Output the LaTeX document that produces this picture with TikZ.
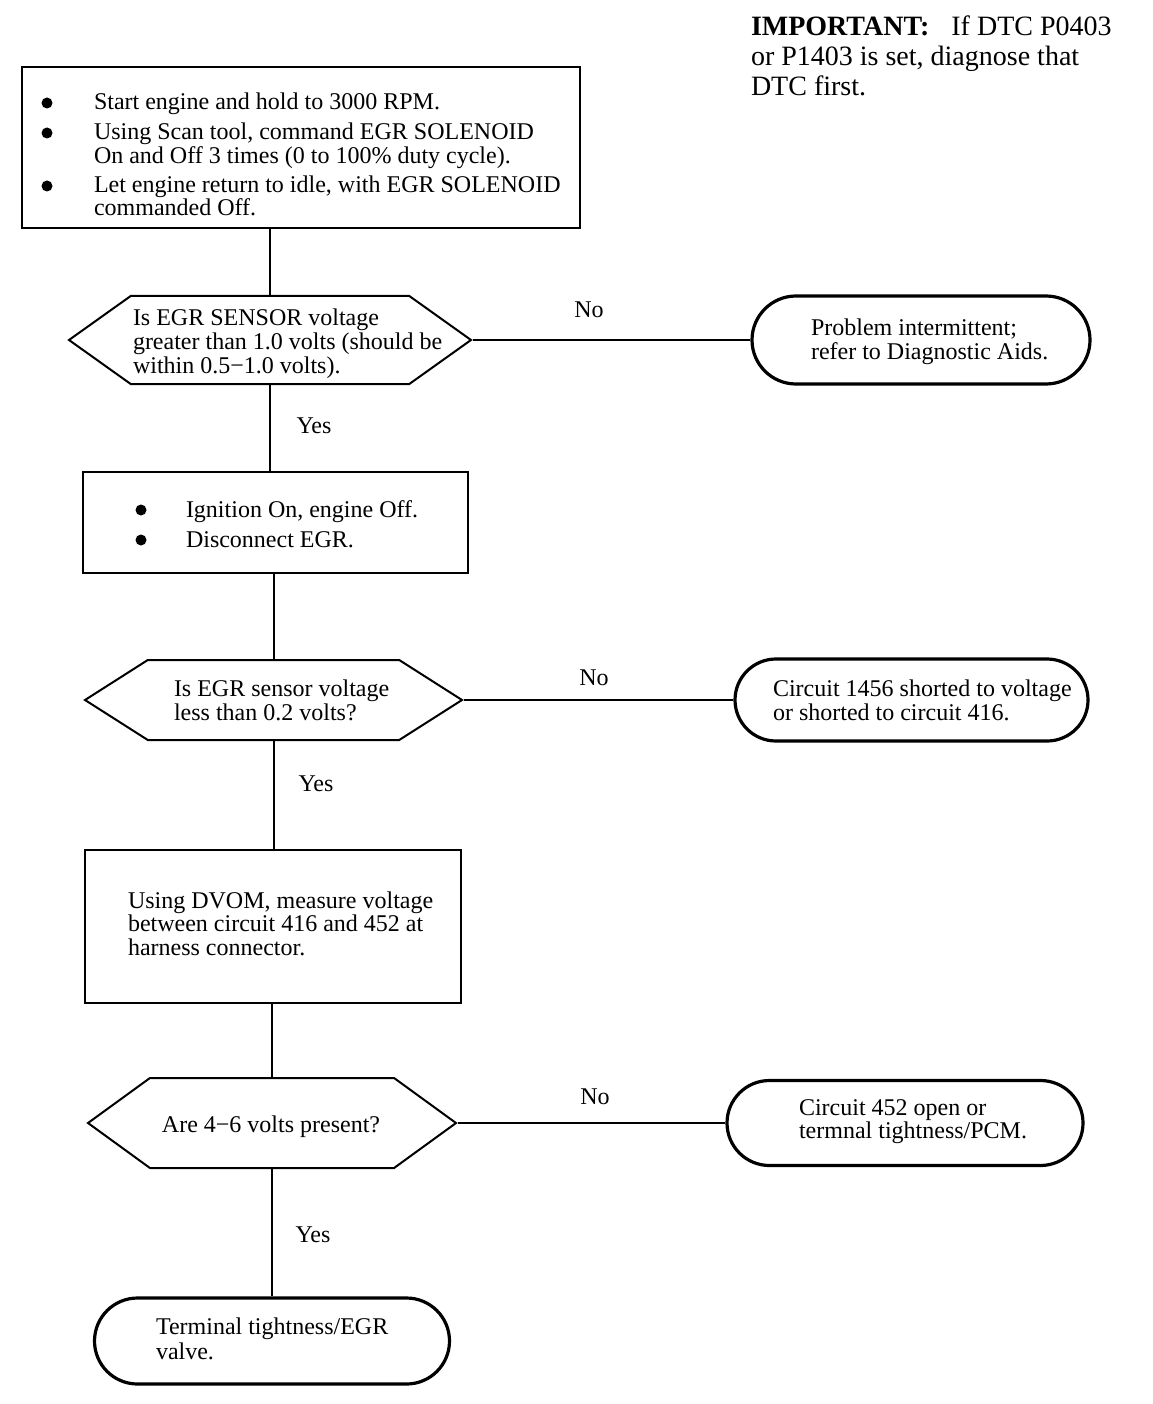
\documentclass[tikz,border=0pt]{standalone}
\usepackage{fontspec}
\setmainfont{Liberation Serif}
\usetikzlibrary{positioning,shapes.symbols,shapes.misc}

\begin{document}
\begin{tikzpicture}[x=1pt,y=-1pt,line width=2pt,
  every node/.style={font=\fontsize{24}{24.5}\selectfont},
  txt/.style={anchor=base west,inner sep=0pt},
  lbl/.style={inner sep=0pt},
  stepbox/.style={draw,rectangle,inner sep=0pt},
  ask/.style={draw,signal,signal to=west and east,inner sep=0pt},
  endbox/.style={draw,rounded rectangle,line width=3.2pt,inner sep=0pt}]
\useasboundingbox (0,0) rectangle (1152,1404);
%% note at top right
\node[txt,font=\fontsize{28}{30}\selectfont] (imp1) at (750,36) {\textbf{IMPORTANT:}\hspace{22pt}If DTC P0403};
\node[txt,font=\fontsize{28}{30}\selectfont] (imp2) at (750,66) {or P1403 is set, diagnose that};
\node[txt,font=\fontsize{28}{30}\selectfont] (imp3) at (750,96) {DTC first.};
%% boxes
\node[stepbox,minimum width=558,minimum height=161] (step1) at (301,147.5) {};
\node[ask,minimum width=402,minimum height=88,signal pointer angle=71] (q1) at (270,340) {};
\node[endbox,minimum width=338,minimum height=88] (end1) at (921,340) {};
\node[stepbox,minimum width=385,minimum height=101] (step2) at (275.5,522.5) {};
\node[ask,minimum width=377,minimum height=80,signal pointer angle=65] (q2) at (273.5,700) {};
\node[endbox,minimum width=353,minimum height=82] (end2) at (911.5,700) {};
\node[stepbox,minimum width=376,minimum height=153] (step3) at (273,926.5) {};
\node[ask,minimum width=368,minimum height=90,signal pointer angle=72] (q3) at (272,1123) {};
\node[endbox,minimum width=356,minimum height=85] (end3) at (905,1123) {};
\node[endbox,minimum width=355,minimum height=86] (end4) at (272,1341) {};
%% bullets
\foreach \x/\y in {47/103,47/133,47/186,141/510,141/540}
  \fill (\x,\y) circle (5.5);
%% texts
\node[txt] (s1a) at (93,110) {Start engine and hold to 3000 RPM.};
\node[txt] (s1b) at (93,140) {Using Scan tool, command EGR SOLENOID};
\node[txt] (s1c) at (93,164) {On and Off 3 times (0 to 100\% duty cycle).};
\node[txt] (s1d) at (93,193) {Let engine return to idle, with EGR SOLENOID};
\node[txt] (s1e) at (93,216) {commanded Off.};
\node[txt] (q1a) at (132,325) {Is EGR SENSOR voltage};
\node[txt] (q1b) at (132,349) {greater than 1.0 volts (should be};
\node[txt] (q1c) at (132,373) {within 0.5−1.0 volts).};
\node[txt] (e1a) at (810,335) {Problem intermittent;};
\node[txt] (e1b) at (810,359) {refer to Diagnostic Aids.};
\node[txt] (s2a) at (185,517) {Ignition On, engine Off.};
\node[txt] (s2b) at (185,547) {Disconnect EGR.};
\node[txt] (q2a) at (173,696) {Is EGR sensor voltage};
\node[txt] (q2b) at (173,720) {less than 0.2 volts?};
\node[txt] (e2a) at (772,696) {Circuit 1456 shorted to voltage};
\node[txt] (e2b) at (772,720) {or shorted to circuit 416.};
\node[txt] (s3a) at (127,908) {Using DVOM, measure voltage};
\node[txt] (s3b) at (127,931) {between circuit 416 and 452 at};
\node[txt] (s3c) at (127,955) {harness connector.};
\node[anchor=base,inner sep=0pt] (q3a) at (271,1132) {Are 4−6 volts present?};
\node[txt] (e3a) at (798,1115) {Circuit 452 open or};
\node[txt] (e3b) at (798,1138) {termnal tightness/PCM.};
\node[txt] (e4a) at (155,1334) {Terminal tightness/EGR};
\node[txt] (e4b) at (155,1359) {valve.};
%% connectors
\draw (q1.north |- step1.south) -- (q1.north);
\draw (q1.south) -- (q1.south |- step2.north);
\draw (q2.north |- step2.south) -- (q2.north);
\draw (q2.south) -- (q2.south |- step3.north);
\draw (q3.north |- step3.south) -- (q3.north);
\draw (q3.south) -- (end4.north);
\draw (q1.east) -- (end1.west);
\draw (q2.east) -- (end2.west);
\draw (q3.east) -- (end3.west);
\node[lbl] (no1) at (589,310) {No};
\node[lbl] (yes1) at (314,426) {Yes};
\node[lbl] (no2) at (594,678) {No};
\node[lbl] (yes2) at (316,784) {Yes};
\node[lbl] (no3) at (595,1097) {No};
\node[lbl] (yes3) at (313,1235) {Yes};
\end{tikzpicture}
\end{document}
